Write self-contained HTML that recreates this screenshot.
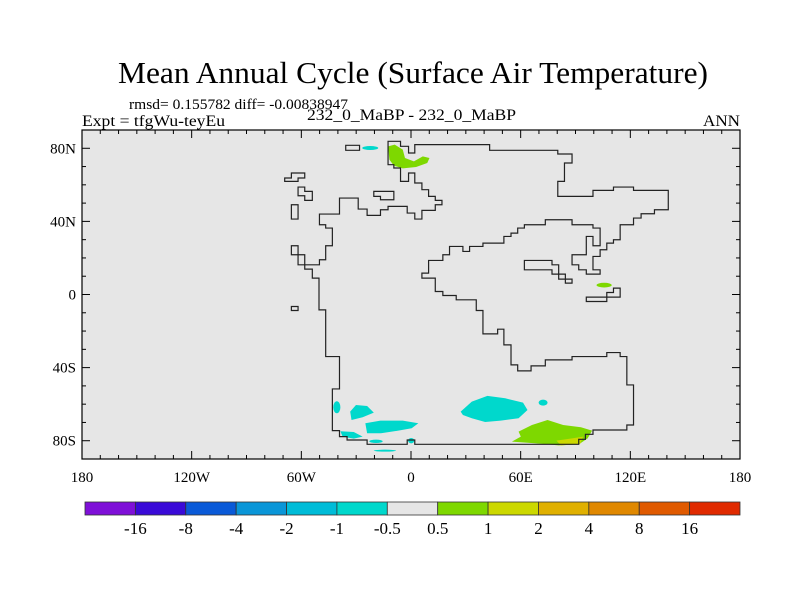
<!DOCTYPE html>
<html><head><meta charset="utf-8"><style>
body{margin:0;background:#fff;}
svg{display:block;font-family:"Liberation Serif",serif;}
</style></head><body>
<svg id="chart" width="800" height="600" viewBox="0 0 800 600">
<rect width="800" height="600" fill="#fff"/>
<text x="118" y="83" font-size="31" textLength="590" lengthAdjust="spacingAndGlyphs">Mean Annual Cycle (Surface Air Temperature)</text>
<text x="129" y="109" font-size="15" textLength="219" lengthAdjust="spacingAndGlyphs">rmsd= 0.155782 diff= -0.00838947</text>
<text x="82" y="126" font-size="16" textLength="143" lengthAdjust="spacingAndGlyphs">Expt = tfgWu-teyEu</text>
<text x="307" y="120" font-size="16" textLength="209" lengthAdjust="spacingAndGlyphs">232_0_MaBP - 232_0_MaBP</text>
<text x="703" y="126" font-size="16" textLength="37" lengthAdjust="spacingAndGlyphs">ANN</text>
<rect x="82" y="130" width="658" height="329" fill="#e6e6e6"/>
<g transform="translate(59.72,89.6) scale(0.4455,0.3337)">
 <g stroke="none">
  <path d="M737,170 L752,165 L770,180 L775,205 L795,215 L815,200 L830,205 L825,220 L800,232 L770,236 L750,228 L740,210 Z" fill="#7ed800"/>
  <ellipse cx="697" cy="175" rx="18" ry="6" fill="#00d8cc"/>
  <ellipse cx="1222" cy="586" rx="17" ry="7" fill="#7ed800"/>
  <path d="M900,965 L925,935 L960,918 L1000,925 L1040,938 L1050,960 L1030,985 L990,992 L955,996 L925,985 L905,975 Z" fill="#00d8cc"/>
  <path d="M652,965 L665,945 L690,948 L705,968 L680,982 L655,990 Z" fill="#00d8cc"/>
  <path d="M686,1000 L720,992 L770,992 L805,1000 L790,1015 L760,1022 L720,1030 L690,1030 Z" fill="#00d8cc"/>
  <ellipse cx="622" cy="952" rx="8" ry="18" fill="#00d8cc"/>
  <path d="M630,1024 L660,1026 L680,1040 L660,1046 L635,1040 Z" fill="#00d8cc"/>
  <ellipse cx="710" cy="1054" rx="15" ry="5" fill="#00d8cc"/>
  <ellipse cx="730" cy="1082" rx="25" ry="3" fill="#00d8cc"/>
  <ellipse cx="1085" cy="938" rx="10" ry="9" fill="#00d8cc"/>
  <ellipse cx="789" cy="1052" rx="7" ry="8" fill="#00d8cc"/>
  <path d="M1015,1055 L1035,1040 L1030,1025 L1060,1005 L1095,990 L1130,1005 L1170,1012 L1195,1022 L1185,1045 L1165,1063 L1120,1066 L1070,1060 Z" fill="#7ed800"/>
  <path d="M1115,1052 L1150,1045 L1175,1040 L1168,1062 L1125,1066 Z" fill="#ccd800"/>
 </g>
 <g fill="none" stroke="#222" stroke-width="1.2">
  <path vector-effect="non-scaling-stroke" d="M737,155 L765,155 L765,170 L783,170 L783,190 L797,190 L797,165 L965,165 L965,182 L1118,182 L1118,193 L1150,193 L1150,220 L1133,220 L1133,275 L1118,275 L1118,320 L1197,320 L1197,302 L1243,302 L1243,292 L1288,292 L1288,302 L1366,302 L1366,360 L1335,360 L1335,372 L1305,372 L1305,385 L1288,385 L1288,405 L1258,405 L1258,450 L1243,450 L1243,460 L1228,460 L1228,480 L1213,480 L1213,500 L1197,500 L1197,540 L1213,540 L1213,553 L1182,553 L1182,540 L1165,540 L1165,525 L1150,525 L1150,495 L1182,495 L1182,440 L1197,440 L1197,468 L1213,468 L1213,415 L1197,415 L1197,405 L1150,405 L1150,390 L1090,390 L1090,405 L1043,405 L1043,415 L1028,415 L1028,430 L1013,430 L1013,440 L997,440 L997,460 L950,460 L950,470 L920,470 L920,485 L905,485 L905,470 L875,470 L875,495 L860,495 L860,512 L828,512 L828,550 L813,550 L813,565 L843,565 L843,605 L860,605 L860,617 L890,617 L890,630 L935,630 L935,662 L950,662 L950,732 L983,732 L983,718 L997,718 L997,765 L1013,765 L1013,825 L1028,825 L1028,843 L1058,843 L1058,828 L1090,828 L1090,810 L1150,810 L1150,800 L1228,800 L1228,788 L1258,788 L1258,800 L1273,800 L1273,885 L1288,885 L1288,1005 L1273,1005 L1273,1020 L1197,1020 L1197,1033 L1180,1033 L1180,1048 L1165,1048 L1165,1063 L797,1063 L797,1050 L780,1050 L780,1063 L690,1063 L690,1050 L645,1050 L645,1040 L628,1040 L628,1022 L612,1022 L612,897 L628,897 L628,800 L597,800 L597,660 L582,660 L582,565 L567,565 L567,538 L550,538 L550,525 L583,525 L583,510 L597,510 L597,468 L612,468 L612,415 L597,415 L597,405 L583,405 L583,373 L628,373 L628,325 L670,325 L670,358 L690,358 L690,377 L720,377 L720,360 L737,360 L737,350 L780,350 L780,370 L797,370 L797,388 L813,388 L813,362 L843,362 L843,345 L858,345 L858,332 L843,332 L843,320 L828,320 L828,300 L813,300 L813,280 L797,280 L797,250 L783,250 L783,275 L765,275 L765,235 L750,235 L750,225 L737,225 Z"/>
  <path vector-effect="non-scaling-stroke" d="M642,167 L673,167 L673,182 L642,182 Z"/>
  <path vector-effect="non-scaling-stroke" d="M520,250 L550,250 L550,265 L535,265 L535,275 L505,275 L505,265 L520,265 Z"/>
  <path vector-effect="non-scaling-stroke" d="M535,292 L550,292 L550,305 L567,305 L567,332 L550,332 L550,318 L535,318 Z"/>
  <path vector-effect="non-scaling-stroke" d="M705,305 L750,305 L750,330 L720,330 L720,320 L705,320 Z"/>
  <path vector-effect="non-scaling-stroke" d="M520,345 L535,345 L535,388 L520,388 Z"/>
  <path vector-effect="non-scaling-stroke" d="M520,468 L535,468 L535,495 L550,495 L550,525 L535,525 L535,495 L520,495 Z"/>
  <path vector-effect="non-scaling-stroke" d="M1043,512 L1105,512 L1105,525 L1120,525 L1120,553 L1135,553 L1135,568 L1150,568 L1150,580 L1135,580 L1135,568 L1120,568 L1120,553 L1105,553 L1105,540 L1043,540 Z"/>
  <path vector-effect="non-scaling-stroke" d="M1243,595 L1258,595 L1258,622 L1228,622 L1228,635 L1182,635 L1182,622 L1228,622 L1228,608 L1243,608 Z"/>
  <path vector-effect="non-scaling-stroke" d="M520,650 L535,650 L535,662 L520,662 Z"/>
 </g>
</g>
<rect x="82" y="130" width="658" height="329" fill="none" stroke="#000" stroke-width="1.2"/>
<g id="axes"></g>
<g id="colorbar"></g>
<script>
const lonTicks=[-180,-120,-60,0,60,120,180];
const lonLabels=["180","120W","60W","0","60E","120E","180"];
const latTicks=[80,40,0,-40,-80];
const latLabels=["80N","40N","0","40S","80S"];
const levelLabels=["-16","-8","-4","-2","-1","-0.5","0.5","1","2","4","8","16"];
const levelColors=["#7f10d8","#3a0ad8","#0a5ad8","#0a96d8","#00bcd8","#00d8cc","#e6e6e6","#7ed800","#ccd800","#e0b000","#e08800","#e05a00","#e02a00"];
const NS="http://www.w3.org/2000/svg";
const X0=82,X1=740,Y0=130,Y1=459;
function xs(lon){return X0+(lon+180)*(X1-X0)/360;}
function ys(lat){return Y0+(90-lat)*(Y1-Y0)/180;}
const ax=document.getElementById('axes');
function ln(x1,y1,x2,y2,name){const l=document.createElementNS(NS,'line');l.setAttribute('x1',x1);l.setAttribute('y1',y1);l.setAttribute('x2',x2);l.setAttribute('y2',y2);l.setAttribute('stroke','#000');


ax.appendChild(l);}
function tx(x,y,s,anchor,name,parent,fs){const t=document.createElementNS(NS,'text');t.setAttribute('x',x);t.setAttribute('y',y);t.setAttribute('font-size',fs);t.setAttribute('text-anchor',anchor);t.textContent=s;


parent.appendChild(t);}
for(let lon=-170;lon<180;lon+=10){const L=(lon%60===0)?8:4;ln(xs(lon),Y1,xs(lon),Y1-L,'x-tick');ln(xs(lon),Y0,xs(lon),Y0+L,'x-tick-top');}
for(let lat=-80;lat<=80;lat+=10){const L=(lat%40===0)?8:4;ln(X0,ys(lat),X0+L,ys(lat),'y-tick');ln(X1,ys(lat),X1-L,ys(lat),'y-tick-right');}
lonTicks.forEach((v,i)=>tx(xs(v),482,lonLabels[i],'middle','x-tick-label',ax,'15'));
latTicks.forEach((v,i)=>tx(X0-6,ys(v)+5,latLabels[i],'end','y-tick-label',ax,'15'));
const cb=document.getElementById('colorbar');
const CB0=85,CB1=740,cy=502,ch=13,w=(CB1-CB0)/levelColors.length;
levelColors.forEach((c,i)=>{const r=document.createElementNS(NS,'rect');r.setAttribute('x',CB0+i*w);r.setAttribute('y',cy);r.setAttribute('width',w);r.setAttribute('height',ch);r.setAttribute('fill',c);r.setAttribute('stroke','#333');r.setAttribute('stroke-width','0.8');


cb.appendChild(r);});
levelLabels.forEach((s,i)=>tx(CB0+(i+1)*w,534,s,'middle','colorbar-label',cb,'17'));
</script>
</svg>
</body></html>
